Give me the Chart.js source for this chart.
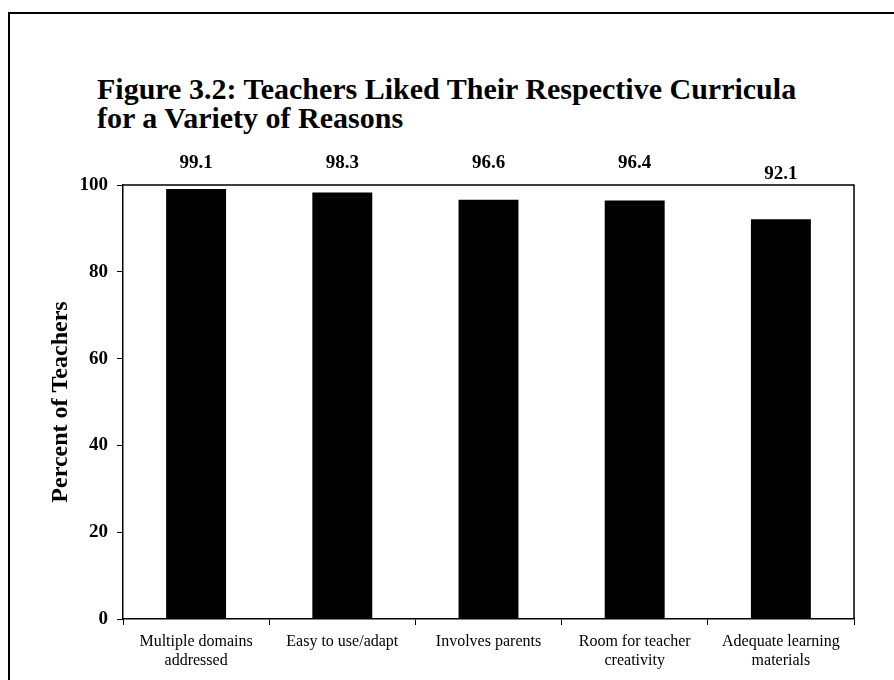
<!DOCTYPE html>
<html>
<head>
<meta charset="utf-8">
<script src="https://cdn.jsdelivr.net/npm/chart.js@4.4.1/dist/chart.umd.min.js"></script>
<style>
  html, body { margin: 0; padding: 0; background: #fff; }
  #wrap { position: relative; width: 894px; height: 680px; overflow: hidden; }
  #frame { position: absolute; left: 8px; top: 12px; width: 950px; height: 750px;
           border-left: 2px solid #000; border-top: 2px solid #000; }
  #title { position: absolute; left: 97px; top: 74px; margin: 0;
           font: bold 30px "Liberation Serif", "Times New Roman", serif;
           line-height: 29px; color: #000; }
  canvas { position: absolute; left: 0; top: 0; }
</style>
</head>
<body>
<div id="wrap">
  <div id="frame"></div>
  <h1 id="title">Figure 3.2: Teachers Liked Their Respective Curricula<br>for a Variety of Reasons</h1>
  <canvas id="chart" width="894" height="680"></canvas>
</div>
<script>
// chart data
const categories = [
  ['Multiple domains', 'addressed'],
  'Easy to use/adapt',
  'Involves parents',
  ['Room for teacher', 'creativity'],
  ['Adequate learning', 'materials']
];
const percentValues = [99.1, 98.3, 96.6, 96.4, 92.1];
const yTicks = [0, 20, 40, 60, 80, 100];

const serif = '"Liberation Serif", "Times New Roman", serif';

// values above the bars (they sit on a common line unless the bar is much lower)
const valueLabels = {
  id: 'valueLabels',
  afterDatasetsDraw(chart) {
    const ctx = chart.ctx;
    const top = chart.chartArea.top;
    ctx.save();
    ctx.font = 'bold 19px ' + serif;
    ctx.fillStyle = '#000';
    ctx.textAlign = 'center';
    ctx.textBaseline = 'middle';
    chart.getDatasetMeta(0).data.forEach((bar, i) => {
      const y = Math.max(top - 22, bar.y - 45);
      ctx.fillText(percentValues[i].toFixed(1), bar.x, y);
    });
    ctx.restore();
  }
};

// top and right edges of the plot box
const plotBox = {
  id: 'plotBox',
  afterDraw(chart) {
    const { left, right, top, bottom } = chart.chartArea;
    const ctx = chart.ctx;
    ctx.save();
    ctx.strokeStyle = '#000';
    ctx.lineWidth = 1.5;
    ctx.beginPath();
    ctx.moveTo(left, top);
    ctx.lineTo(right, top);
    ctx.lineTo(right, bottom);
    ctx.stroke();
    ctx.restore();
  }
};

new Chart(document.getElementById('chart'), {
  type: 'bar',
  data: {
    labels: categories,
    datasets: [{
      data: percentValues,
      backgroundColor: '#000',
      borderWidth: 0,
      categoryPercentage: 1,
      barPercentage: 0.41
    }]
  },
  options: {
    responsive: false,
    animation: false,
    layout: { padding: { left: 36, top: 185, right: 40, bottom: 0 } },
    plugins: {
      legend: { display: false },
      tooltip: { enabled: false }
    },
    scales: {
      x: {
        afterFit: s => { s.height = 61; },
        grid: { offset: true, drawOnChartArea: false, color: '#000', tickLength: 6, lineWidth: 1 },
        border: { color: '#000', width: 1.5 },
        ticks: {
          color: '#000',
          padding: 8,
          maxRotation: 0,
          font: { family: serif, size: 16, lineHeight: 1.15 }
        }
      },
      y: {
        min: 0,
        max: 100,
        afterFit: s => { s.width = 87; },
        afterBuildTicks: s => { s.ticks = yTicks.map(v => ({ value: v })); },
        grid: { drawOnChartArea: false, color: '#000', tickLength: 6, lineWidth: 1 },
        border: { color: '#000', width: 1.5 },
        ticks: {
          color: '#000',
          padding: 9,
          font: { family: serif, size: 19, weight: 'bold' }
        },
        title: {
          display: true,
          text: 'Percent of Teachers',
          color: '#000',
          padding: { top: 10, bottom: 0 },
          font: { family: serif, size: 24, weight: 'bold', lineHeight: 1.2 }
        }
      }
    }
  },
  plugins: [valueLabels, plotBox]
});
</script>
</body>
</html>
